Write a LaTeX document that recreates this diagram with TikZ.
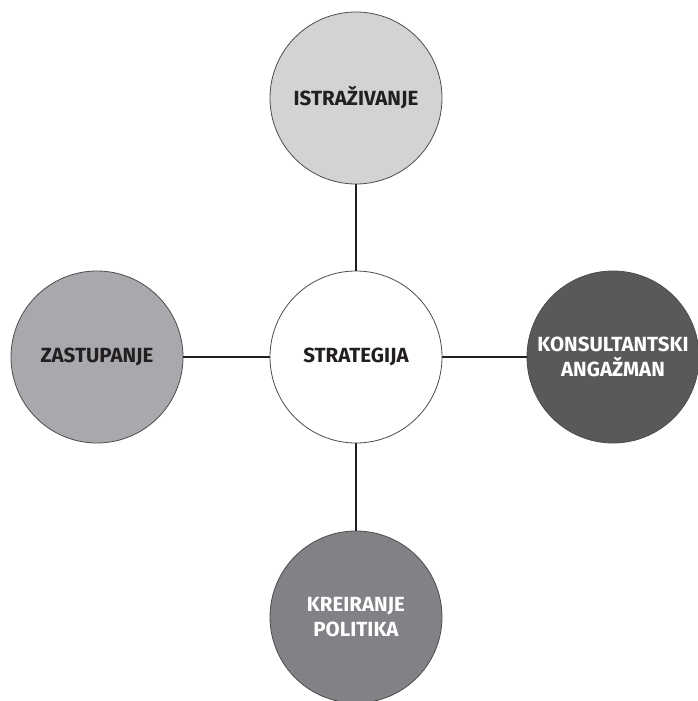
\documentclass[tikz,border=0pt]{standalone}
\usepackage{fontspec}
\setmainfont{Fira Sans}
\definecolor{cLight}{HTML}{D1D3D4}
\definecolor{cMid}{HTML}{A7A9AC}
\definecolor{cDark}{HTML}{58595B}
\definecolor{cGrey}{HTML}{808285}
\definecolor{cInk}{HTML}{231F20}
\begin{document}
\begin{tikzpicture}[x=1pt,y=-1pt,
  bubble/.style={circle, draw=cInk!80, line width=0.8pt, minimum size=172pt, inner sep=0pt, align=center,
    font=\fontsize{20.5}{24.5}\selectfont\bfseries},
  link/.style={draw=cInk, line width=2pt}]
\useasboundingbox (0,0) rectangle (698,701);
\node[bubble, fill=white, text=cInk] (c) at (356,357) {STRATEGIJA};
\node[bubble, fill=cLight, text=cInk] (t) at (356,98) {ISTRAŽIVANJE};
\node[bubble, fill=cMid, text=cInk] (l) at (97,357) {ZASTUPANJE};
\node[bubble, fill=cDark, text=white] (r) at (613,357) {KONSULTANTSKI\\ANGAŽMAN};
\node[bubble, fill=cGrey, text=white] (b) at (356,617) {KREIRANJE\\POLITIKA};
\draw[link] (t) -- (c);
\draw[link] (l) -- (c);
\draw[link] (c) -- (r);
\draw[link] (c) -- (b);
\end{tikzpicture}
\end{document}
